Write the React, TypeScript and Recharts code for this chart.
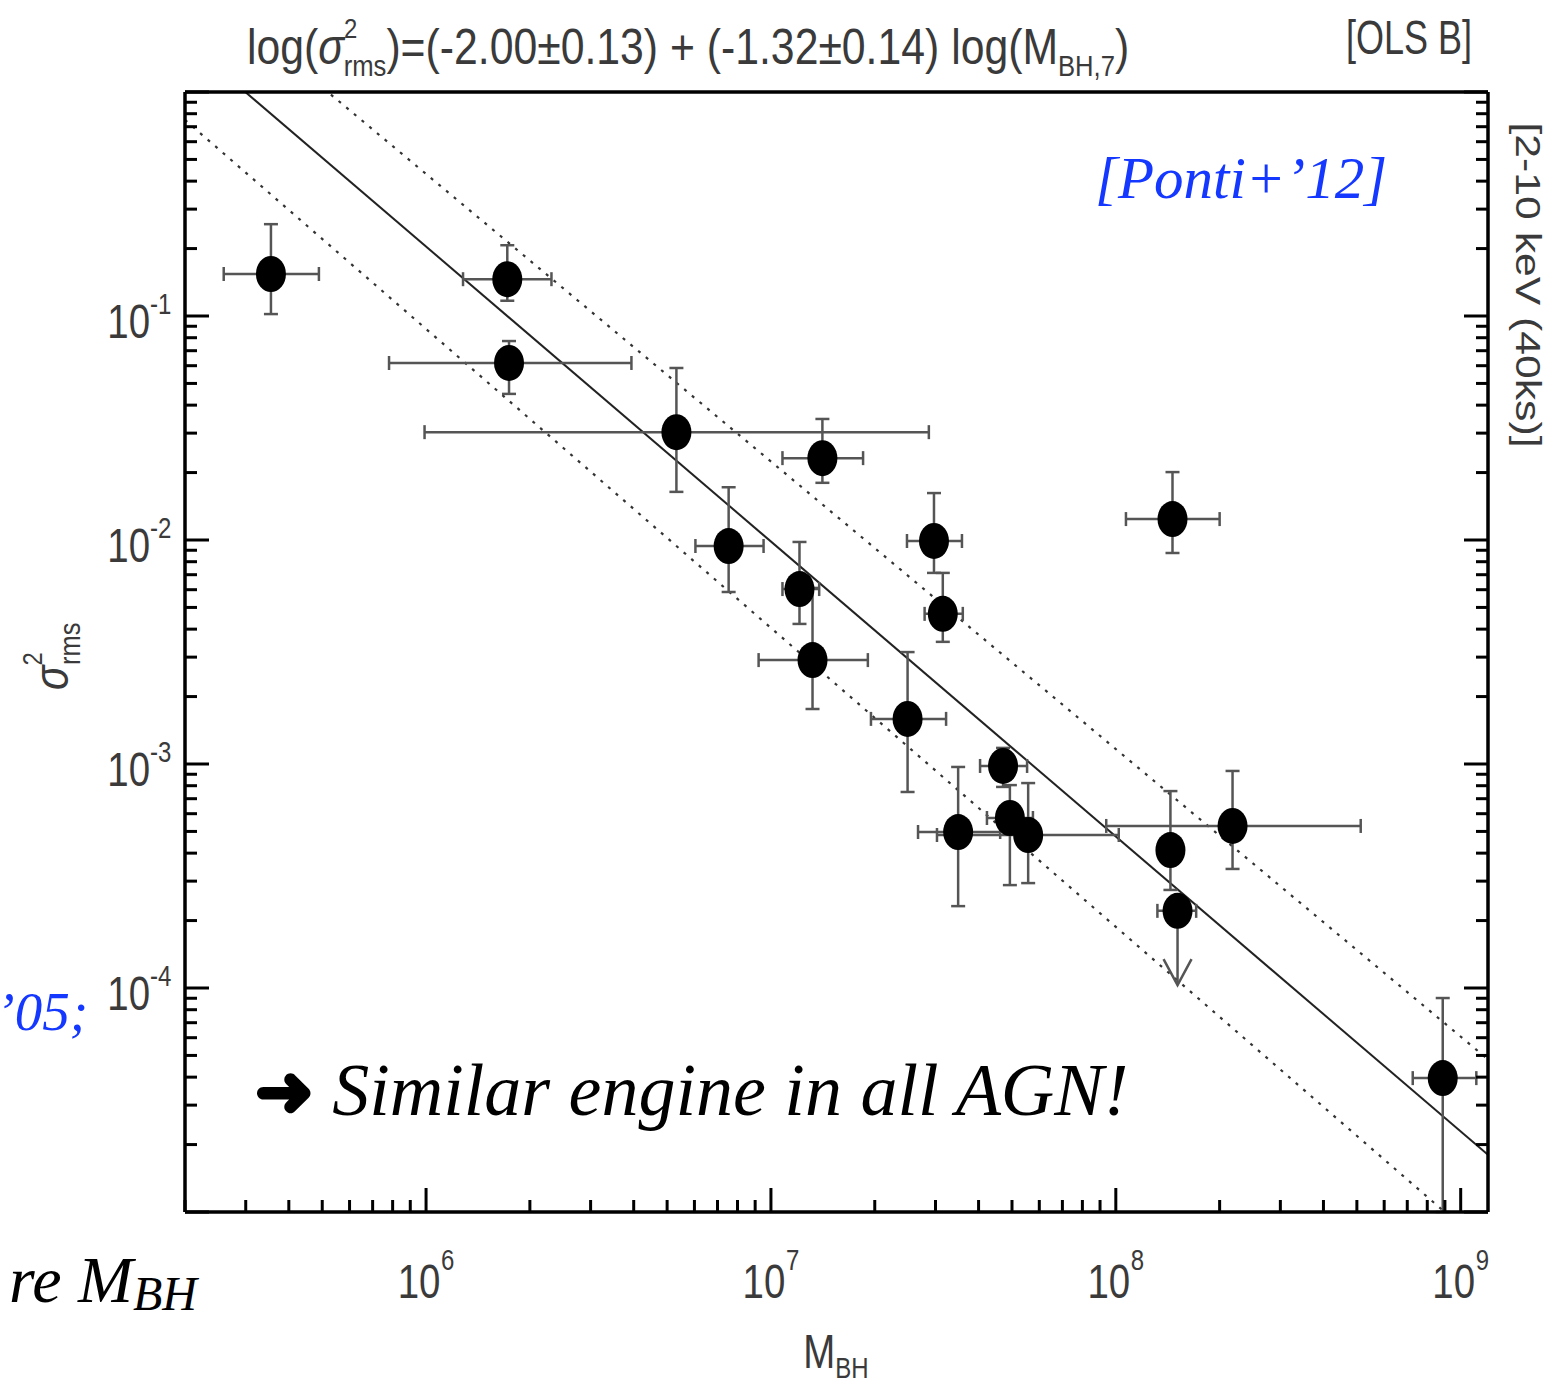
import { ScatterChart, Scatter, XAxis, YAxis, ErrorBar, ReferenceLine } from 'recharts'

// black hole mass (x) with its error range
const M_BH = [3.55e5, 1.72e6, 1.74e6, 5.32e6, 1.41e7, 7.54e6, 2.97e7, 1.46e8, 1.21e7, 3.15e7, 1.32e7, 2.49e7, 4.71e7, 3.49e7, 4.93e7, 5.57e7, 1.44e8, 2.18e8, 1.51e8, 8.87e8]
const M_LO = [2.59e5, 1.28e6, 7.81e5, 9.9e5, 1.08e7, 6.04e6, 2.48e7, 1.07e8, 1.08e7, 2.79e7, 9.21e6, 1.95e7, 4.04e7, 2.67e7, 4.23e7, 3.03e7, 1.36e8, 9.38e7, 1.32e8, 7.26e8]
const M_HI = [4.89e5, 2.31e6, 3.94e6, 2.87e7, 1.85e7, 9.52e6, 3.58e7, 2.0e8, 1.38e7, 3.6e7, 1.91e7, 3.22e7, 5.53e7, 4.62e7, 5.75e7, 1.02e8, 1.52e8, 5.13e8, 1.71e8, 1.11e9]

// excess variance (y) with its error range
const SIGMA = [0.154, 0.146, 0.0617, 0.0303, 0.0232, 0.0094, 0.0099, 0.0124, 0.00604, 0.00468, 0.00291, 0.00159, 0.00098, 0.000497, 0.000574, 0.000482, 0.000413, 0.000529, 0.000221, 3.96e-5]
const S_LO = [0.102, 0.117, 0.0449, 0.0164, 0.018, 0.00586, 0.00713, 0.00875, 0.00422, 0.00351, 0.00176, 0.00075, 0.00079, 0.000232, 0.000288, 0.000294, 0.000274, 0.00034, 0.000221, 1e-5]
const S_HI = [0.257, 0.207, 0.0773, 0.0586, 0.0347, 0.0172, 0.0162, 0.0201, 0.0098, 0.00713, 0.00611, 0.00316, 0.00118, 0.00097, 0.000805, 0.000822, 0.000757, 0.000931, 0.000221, 9.02e-5]

// upper limit arrow (from the point down to the tip)
const LIMIT_M = [1.51e8, 1.51e8]
const LIMIT_S = [0.000221, 0.000103]

// fit line + dotted band, endpoints at the x-domain edges
const FIT_M = [2e5, 1.2e9]
const FIT_BEST = [1.7, 1.8e-5]
const FIT_UPPER = [3.4, 4.8e-5]
const FIT_LOWER = [0.75, 6.8e-6]

const X_DOMAIN = [2e5, 1.2e9]
const Y_DOMAIN = [1e-5, 1]
const X_MAJOR = [1e6, 1e7, 1e8, 1e9]
const X_LABELS = ['6', '7', '8', '9']
const Y_MAJOR = [1, 1e-1, 1e-2, 1e-3, 1e-4, 1e-5]
const Y_LABELS = ['', '-1', '-2', '-3', '-4', '']
const MINOR_FACTORS = [2, 3, 4, 5, 6, 7, 8, 9]

const xTicks = [1e5, 1e6, 1e7, 1e8, 1e9]
  .flatMap((d) => [d, ...MINOR_FACTORS.map((f) => f * d)])
  .filter((v) => v >= X_DOMAIN[0] && v <= X_DOMAIN[1])
const yTicks = [1e-5, 1e-4, 1e-3, 1e-2, 1e-1, 1]
  .flatMap((d) => (d < 1 ? [d, ...MINOR_FACTORS.map((f) => f * d)] : [d]))

const points = M_BH.map((m, i) => ({
  m,
  s: SIGMA[i],
  ex: [m - M_LO[i], M_HI[i] - m],
  ey: [SIGMA[i] - S_LO[i], S_HI[i] - SIGMA[i]],
}))
const limit = LIMIT_M.map((m, i) => ({ m, s: LIMIT_S[i], tip: i === 1 }))

const SANS = '"Liberation Sans", Arial, sans-serif'
const SERIF = '"Liberation Serif", "DejaVu Serif", serif'
const TEXT = '#3a3a3a'
const BLUE = '#1438ff'

// narrow (horizontally squeezed) text, like the squashed figure fonts
function NText({ x, y, sx = 0.8, size, anchor = 'start', children }: any) {
  return (
    <g transform={`translate(${x},${y}) scale(${sx},1)`}>
      <text x={0} y={0} fontSize={size} fontFamily={SANS} fill={TEXT} textAnchor={anchor}>
        {children}
      </text>
    </g>
  )
}

function XTick(props: any) {
  const { x, y, payload, side } = props
  const i = X_MAJOR.indexOf(payload.value)
  const len = i >= 0 ? 24 : 12
  const dir = side === 'bottom' ? -1 : 1
  return (
    <g>
      <line x1={x} x2={x} y1={y} y2={y + dir * len} stroke="#000" strokeWidth={3} />
      {side === 'bottom' && i >= 0 && (
        <g>
          <NText x={x - 7} y={y + 86} size={48} anchor="middle">10</NText>
          <NText x={x + 15} y={y + 58} size={30}>{X_LABELS[i]}</NText>
        </g>
      )}
    </g>
  )
}

function YTick(props: any) {
  const { x, y, payload, side } = props
  const i = Y_MAJOR.indexOf(payload.value)
  const len = i >= 0 ? 24 : 12
  const dir = side === 'left' ? 1 : -1
  return (
    <g>
      <line x1={x} x2={x + dir * len} y1={y} y2={y} stroke="#000" strokeWidth={3} />
      {side === 'left' && i >= 0 && Y_LABELS[i] && (
        <g>
          <NText x={x - 35} y={y + 22} size={48} anchor="end">10</NText>
          <NText x={x - 35} y={y - 2} size={30}>{Y_LABELS[i]}</NText>
        </g>
      )}
    </g>
  )
}

function Dot(props: any) {
  return <ellipse cx={props.cx} cy={props.cy} rx={15} ry={18} fill="#000" />
}

function ArrowTip(props: any) {
  const { cx, cy, payload } = props
  if (!payload.tip) return <g />
  return (
    <polyline
      points={`${cx - 14},${cy - 26} ${cx},${cy} ${cx + 14},${cy - 26}`}
      fill="none"
      stroke="#555"
      strokeWidth={2.5}
    />
  )
}

function Overlay() {
  return (
    <svg width={1553} height={1385} style={{ position: 'absolute', left: 0, top: 0, pointerEvents: 'none' }}>
      <NText x={247} y={64} size={50} sx={0.855}>
        log(<tspan fontStyle="italic">σ</tspan>
        <tspan fontSize={28} dy={-26}>2</tspan>
        <tspan fontSize={30} dx={-16} dy={38}>rms</tspan>
        <tspan dy={-12}>)=(-2.00±0.13) + (-1.32±0.14) log(M</tspan>
        <tspan fontSize={30} dy={12}>BH,7</tspan>
        <tspan dy={-12}>)</tspan>
      </NText>
      <NText x={1472} y={54} size={48} sx={0.75} anchor="end">[OLS B]</NText>
      <g transform="translate(1516, 285) rotate(90) scale(1.22,1)">
        <text x={0} y={0} fontSize={35} fontFamily={SANS} fill={TEXT} textAnchor="middle">
          [2-10 keV (40ks)]
        </text>
      </g>
      <g transform="translate(68, 690) rotate(-90)">
        <NText x={0} y={0} size={48} sx={0.85}>
          <tspan fontStyle="italic">σ</tspan>
          <tspan fontSize={28} dy={-26}>2</tspan>
          <tspan fontSize={30} dx={-15} dy={38}>rms</tspan>
        </NText>
      </g>
      <NText x={836} y={1368} size={48} anchor="middle">
        M<tspan fontSize={30} dy={10}>BH</tspan>
      </NText>
      <text x={1095} y={198} fontSize={59} fontFamily={SERIF} fontStyle="italic" fill={BLUE}>
        [Ponti+’12]
      </text>
      <text x={255} y={1115} fontSize={74} fontFamily={SERIF} fontStyle="italic" fill="#000">
        <tspan
          fontFamily='"DejaVu Sans", sans-serif'
          fontStyle="normal"
          fontWeight="bold"
          fontSize={70}
          stroke="#000"
          strokeWidth={4}
          strokeLinejoin="round"
        >
          ➜
        </tspan>
        <tspan> Similar engine in all AGN!</tspan>
      </text>
      <text x={88} y={1030} fontSize={55} fontFamily={SERIF} fontStyle="italic" fill={BLUE} textAnchor="end">
        ’05;
      </text>
      <text x={197} y={1302} fontSize={66} fontFamily={SERIF} fontStyle="italic" fill="#000" textAnchor="end">
        re M<tspan fontSize={48} dy={8}>BH</tspan>
      </text>
    </svg>
  )
}

export default function App() {
  return (
    <div style={{ position: 'relative', width: 1553, height: 1385, background: '#fff' }}>
      <style>{'body{margin:0}'}</style>
      <ScatterChart width={1553} height={1385} margin={{ top: 72, right: 45, bottom: 113, left: 105 }}>
        <XAxis
          dataKey="m"
          type="number"
          scale="log"
          domain={X_DOMAIN}
          allowDataOverflow
          ticks={xTicks}
          interval={0}
          height={60}
          tickSize={0}
          tickMargin={0}
          axisLine={{ stroke: '#000', strokeWidth: 3.5 }}
          tick={(p: any) => <XTick {...p} side="bottom" />}
        />
        <XAxis
          xAxisId="top"
          orientation="top"
          type="number"
          scale="log"
          domain={X_DOMAIN}
          allowDataOverflow
          ticks={xTicks}
          interval={0}
          height={20}
          tickSize={0}
          tickMargin={0}
          axisLine={{ stroke: '#000', strokeWidth: 3.5 }}
          tick={(p: any) => <XTick {...p} side="top" />}
        />
        <YAxis
          dataKey="s"
          type="number"
          scale="log"
          domain={Y_DOMAIN}
          allowDataOverflow
          ticks={yTicks}
          interval={0}
          width={80}
          tickSize={0}
          tickMargin={0}
          axisLine={{ stroke: '#000', strokeWidth: 3.5 }}
          tick={(p: any) => <YTick {...p} side="left" />}
        />
        <YAxis
          yAxisId="right"
          orientation="right"
          type="number"
          scale="log"
          domain={Y_DOMAIN}
          allowDataOverflow
          ticks={yTicks}
          interval={0}
          width={20}
          tickSize={0}
          tickMargin={0}
          axisLine={{ stroke: '#000', strokeWidth: 3.5 }}
          tick={(p: any) => <YTick {...p} side="right" />}
        />
        <ReferenceLine
          segment={[{ x: FIT_M[0], y: FIT_UPPER[0] }, { x: FIT_M[1], y: FIT_UPPER[1] }]}
          ifOverflow="hidden"
          stroke="#333"
          strokeWidth={2.2}
          strokeDasharray="3 7"
        />
        <ReferenceLine
          segment={[{ x: FIT_M[0], y: FIT_LOWER[0] }, { x: FIT_M[1], y: FIT_LOWER[1] }]}
          ifOverflow="hidden"
          stroke="#333"
          strokeWidth={2.2}
          strokeDasharray="3 7"
        />
        <ReferenceLine
          segment={[{ x: FIT_M[0], y: FIT_BEST[0] }, { x: FIT_M[1], y: FIT_BEST[1] }]}
          ifOverflow="hidden"
          stroke="#222"
          strokeWidth={2}
        />
        <Scatter
          data={limit}
          line={{ stroke: '#555', strokeWidth: 2.5 }}
          shape={ArrowTip}
          isAnimationActive={false}
        />
        <Scatter data={points} shape={Dot} isAnimationActive={false}>
          <ErrorBar dataKey="ex" direction="x" width={7} stroke="#555" strokeWidth={2.5} />
          <ErrorBar dataKey="ey" direction="y" width={7} stroke="#555" strokeWidth={2.5} />
        </Scatter>
      </ScatterChart>
      <Overlay />
    </div>
  )
}
